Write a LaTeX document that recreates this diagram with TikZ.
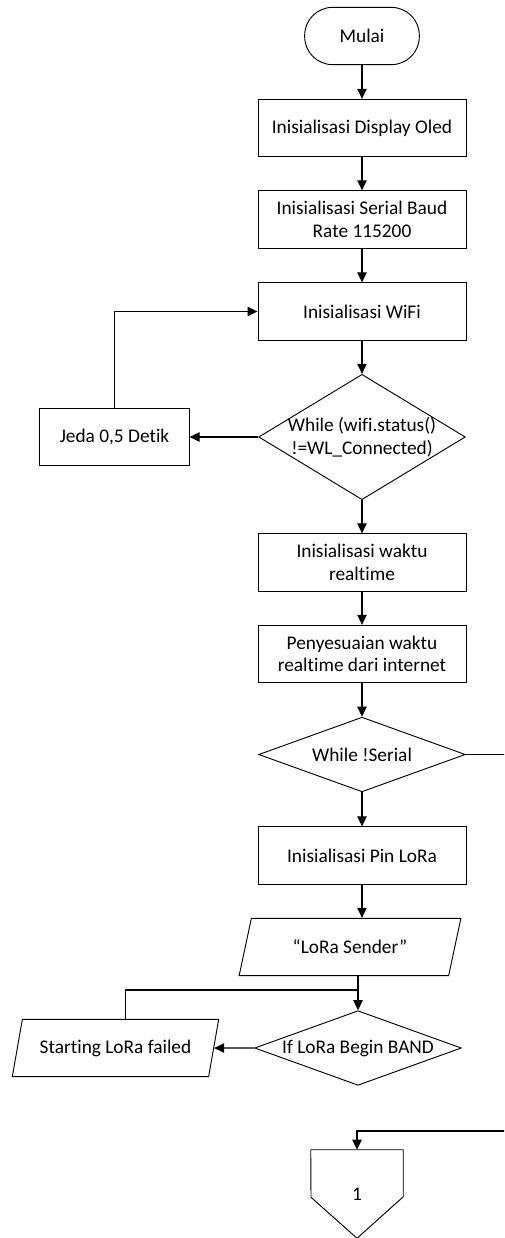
\documentclass[tikz,border=0pt]{standalone}
\usepackage{fontspec}
\setmainfont{Carlito}[Ligatures=NoCommon]
\usetikzlibrary{arrows.meta,shapes.geometric}

\begin{document}
\begin{tikzpicture}[x=0.75pt,y=-0.75pt,
  font=\fontsize{14.5pt}{17pt}\selectfont,
  box/.style={draw,line width=0.7pt,align=center,minimum width=156pt,minimum height=43pt,inner sep=2pt},
  term/.style={box,rounded corners=21pt,minimum width=86pt},
  cond/.style={diamond,draw,line width=0.7pt,inner sep=0pt,minimum width=155pt,minimum height=56pt},
  io/.style={trapezium,trapezium left angle=69,trapezium right angle=111,trapezium stretches=true,draw,line width=0.7pt,minimum height=43pt,inner sep=2pt},
  offpage/.style={inner sep=0pt,minimum width=69pt,minimum height=66pt},
  flow/.style={line width=0.9pt,-{Triangle[length=7.5pt,width=7pt]}},
  joinline/.style={line width=0.9pt}]
  \useasboundingbox (0,0) rectangle (504,1238);
  \clip (0,0) rectangle (504,1238);

  \node[term] (mulai) at (362,36) {Mulai};
  \node[box] (oled) at (362,128) {Inisialisasi Display Oled};
  \node[box] (serial) at (362,219.5) {Inisialisasi Serial Baud\\Rate 115200};
  \node[box] (wifi) at (362,311.5) {Inisialisasi WiFi};
  \node[cond,minimum height=94pt,label={[align=center]center:While (wifi.status()\\!=WL\_Connected)}] (cekwifi) at (362,437) {};
  \node[box,minimum width=112pt] (jeda) at (114.5,437) {Jeda 0,5 Detik};
  \node[box] (waktu) at (362,562.5) {Inisialisasi waktu\\realtime};
  \node[box] (sesuai) at (362,654) {Penyesuaian waktu\\realtime dari internet};
  \node[cond,label={center:While !Serial}] (cekserial) at (362,754.5) {};
  \node[box] (pin) at (362,855.5) {Inisialisasi Pin LoRa};
  \node[io,minimum width=166.5pt] (sender) at (350,947) {“LoRa Sender”};
  \node[cond,label={center:If LoRa Begin BAND}] (cekband) at (358,1048) {};
  \node[io,minimum width=155pt] (gagal) at (115.5,1048) {Starting LoRa failed};
  \node[offpage] (hal1) at (357,1194) {1};
  \draw[line width=0.7pt] (hal1.north west) -- (hal1.north east) -- ++(0,47) -- (hal1.south) -- ++(-46,-41) -- cycle;

  \coordinate (kanan1) at (530,754.5);
  \coordinate (kanan2) at (530,1131);
  \coordinate (gabung) at (358,990);

  \draw[flow] (mulai) -- (oled);
  \draw[flow] (oled) -- (serial);
  \draw[flow] (serial) -- (wifi);
  \draw[flow] (wifi) -- (cekwifi);
  \draw[flow] (cekwifi.west) -- (jeda.east);
  \draw[flow] (jeda.north) |- (wifi.west);
  \draw[flow] (cekwifi) -- (waktu);
  \draw[flow] (waktu) -- (sesuai);
  \draw[flow] (sesuai) -- (cekserial);
  \draw[flow] (cekserial) -- (pin);
  \draw[flow] (pin.south) -- (pin.south |- sender.north);
  \draw[flow] (cekband.north |- sender.south) -- (cekband.north);
  \draw[flow] (cekband.west) -- (gagal.east);
  \draw[joinline] ([xshift=7.5pt]gagal.north) |- (gabung);
  \draw[flow] (cekserial.east) -- (kanan1) -- (kanan2) -| (hal1.north);
\end{tikzpicture}
\end{document}
